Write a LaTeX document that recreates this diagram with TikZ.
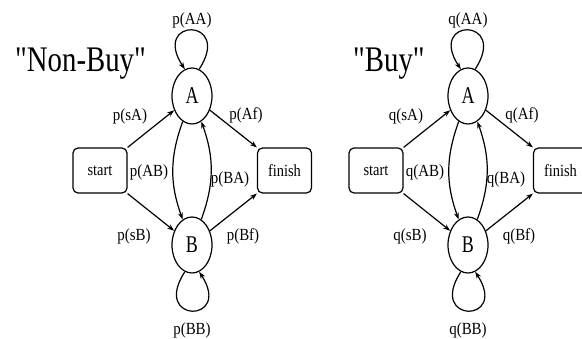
\documentclass[tikz,border=0pt]{standalone}
\usepackage{fontspec}
\setmainfont{Liberation Serif}
\newfontfamily\ttlfont{Liberation Serif}[Ligatures=ResetAll]
\usetikzlibrary{arrows.meta,shapes.geometric}
\tikzset{
 st/.style={draw, ellipse, line width=1.2pt, minimum width=40pt, minimum height=56pt, inner sep=0pt, font=\fontsize{24}{24}\selectfont},
 bx/.style={draw, rounded corners=5pt, line width=1.2pt, minimum width=54pt, minimum height=45pt, inner sep=0pt, font=\fontsize{17}{17}\selectfont},
 lb/.style={inner sep=0pt, font=\fontsize{17}{17}\selectfont},
 ttl/.style={inner sep=0pt, anchor=base west, font=\ttlfont\fontsize{36}{36}\selectfont},
 ed/.style={line width=1.2pt, -{Stealth[length=7pt,width=5pt]}},
}
\newcommand\sq[2]{\scalebox{#1}[1]{#2}}
\newcommand\hmmhalf[4]{%
\begin{scope}[xshift=#1]
\node[ttl] (#2T) at (#4,72) {\sq{0.8}{#3}};
\node[st] (#2A) at (192,96) {\sq{0.75}{A}};
\node[st] (#2B) at (192,245) {\sq{0.75}{B}};
\node[bx] (#2s) at (100,170.5) {\sq{0.85}{start}};
\node[bx] (#2f) at (284.5,170.5) {\sq{0.85}{finish}};
\draw[ed] (#2s.north east) -- (#2A);
\draw[ed] (#2A) -- (#2f.north west);
\draw[ed] (#2s.south east) -- (#2B);
\draw[ed] (#2B) -- (#2f.south west);
\draw[ed] (#2A.250) to[bend right=20] (#2B.110);
\draw[ed] (#2B.70) to[bend right=20] (#2A.290);
\draw[ed] (#2A.75) .. controls +(34,-52) and +(-34,-52) .. (#2A.105);
\draw[ed] (#2B.255) .. controls +(-34,52) and +(34,52) .. (#2B.285);
\node[lb] (#2lAA) at (192,20) {\sq{0.88}{#2(AA)}};
\node[lb] (#2lsA) at (130,116) {\sq{0.88}{#2(sA)}};
\node[lb] (#2lAf) at (246,115) {\sq{0.88}{#2(Af)}};
\node[lb] (#2lAB) at (149,172) {\sq{0.88}{#2(AB)}};
\node[lb] (#2lBA) at (230,179) {\sq{0.88}{#2(BA)}};
\node[lb] (#2lsB) at (134,236) {\sq{0.88}{#2(sB)}};
\node[lb] (#2lBf) at (243,236) {\sq{0.88}{#2(Bf)}};
\node[lb] (#2lBB) at (192,330) {\sq{0.88}{#2(BB)}};
\end{scope}}
\begin{document}
\begin{tikzpicture}[x=1pt,y=-1pt]
\useasboundingbox[fill=white] (0,0) rectangle (582,339);
\hmmhalf{0pt}{p}{"Non-Buy"}{15}
\hmmhalf{276pt}{q}{"Buy"}{77}
\end{tikzpicture}
\end{document}
